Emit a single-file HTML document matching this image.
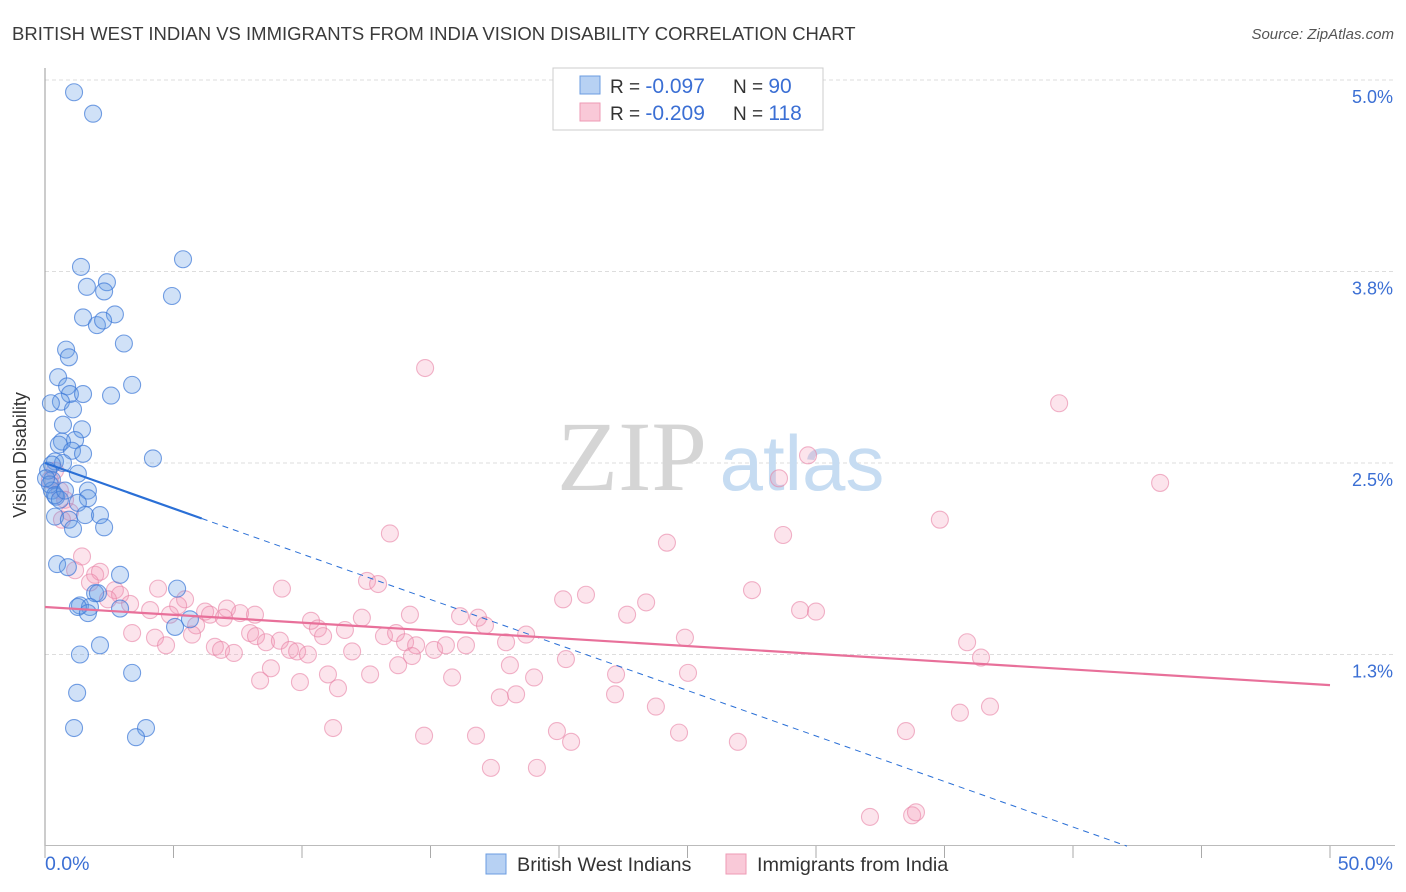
<!DOCTYPE html>
<html><head><meta charset="utf-8"><style>
body{margin:0;background:#fff;font-family:"Liberation Sans",sans-serif;}
#wrap{position:relative;width:1406px;height:892px;overflow:hidden;}
</style></head><body>
<div id="wrap">
<svg id="chart" width="1406" height="892" xmlns="http://www.w3.org/2000/svg">
<text x="12" y="40" font-size="18.5" fill="#3a3a3a">BRITISH WEST INDIAN VS IMMIGRANTS FROM INDIA VISION DISABILITY CORRELATION CHART</text>
<text x="1394" y="39" font-size="15" fill="#555" font-style="italic" text-anchor="end">Source: ZipAtlas.com</text>
<g id="grid"></g>
<g><text x="632" y="490" font-size="100" fill="#d5d5d5" font-family="Liberation Serif,serif" text-anchor="middle">ZIP</text><text x="802" y="490" font-size="78" fill="#c6dcf2" text-anchor="middle">atlas</text></g>
<line x1="45" y1="68" x2="45" y2="846" stroke="#999"/>
<line x1="45" y1="845.5" x2="1395" y2="845.5" stroke="#bbb"/>
<g id="ticks"></g>
<g id="pts"></g>
<g id="trends"></g>
<text x="26" y="455" font-size="18" fill="#333" text-anchor="middle" transform="rotate(-90 26 455)">Vision Disability</text>
<text x="45" y="870" font-size="19.5" fill="#3b6fd4">0.0%</text>
<text x="1393" y="870" font-size="19.5" fill="#3b6fd4" text-anchor="end">50.0%</text>
<g>
<rect x="553" y="68" width="270" height="62" fill="#fff" stroke="#ccc"/>
<rect x="580" y="76" width="20" height="18" fill="#b7d1f3" stroke="#6b9ce0"/>
<rect x="580" y="103" width="20" height="18" fill="#f9c9d8" stroke="#ee9ab5"/>
<text x="610" y="93" font-size="19" fill="#333">R = <tspan fill="#3b6fd4" font-size="21">-0.097</tspan><tspan x="733">N = </tspan><tspan fill="#3b6fd4" font-size="21">90</tspan></text>
<text x="610" y="120" font-size="19" fill="#333">R = <tspan fill="#3b6fd4" font-size="21">-0.209</tspan><tspan x="733">N = </tspan><tspan fill="#3b6fd4" font-size="21">118</tspan></text>
</g>
<g>
<rect x="486" y="854" width="20" height="20" fill="#b7d1f3" stroke="#6b9ce0"/>
<text x="517" y="871" font-size="19.8" fill="#333">British West Indians</text>
<rect x="726" y="854" width="20" height="20" fill="#f9c9d8" stroke="#ee9ab5"/>
<text x="757" y="871" font-size="19.8" fill="#333">Immigrants from India</text>
</g>
</svg>
</div>
<script>
const yTicks=[5.0,3.75,2.5,1.25];
const yTickLabels=["5.0%","3.8%","2.5%","1.3%"];
const xTicks=[0,5,10,15,20,25,30,35,40,45,50];
const blueX=[1.13,1.87,1.40,5.37,1.63,2.41,2.30,4.94,1.48,2.02,2.72,2.26,0.82,0.93,3.07,0.51,0.86,0.97,0.62,1.48,3.39,2.57,0.23,1.09,0.70,1.44,1.17,0.66,0.54,1.05,1.48,4.20,0.39,0.70,0.27,1.28,0.27,0.27,1.67,0.43,1.67,1.28,0.39,0.93,1.56,2.14,1.09,2.30,0.47,0.89,2.92,5.14,1.95,2.06,1.36,1.75,1.28,2.92,5.64,5.06,1.67,1.36,2.14,3.39,1.25,1.13,3.93,3.54,0.12,0.19,0.04,0.39,0.58,0.78];
const blueY=[4.92,4.78,3.78,3.83,3.65,3.68,3.62,3.59,3.45,3.40,3.47,3.43,3.24,3.19,3.28,3.06,3.00,2.95,2.90,2.95,3.01,2.94,2.89,2.85,2.75,2.72,2.65,2.64,2.62,2.58,2.56,2.53,2.51,2.50,2.49,2.43,2.39,2.32,2.32,2.28,2.27,2.24,2.15,2.13,2.16,2.16,2.07,2.08,1.84,1.82,1.77,1.68,1.65,1.65,1.57,1.56,1.56,1.55,1.48,1.43,1.52,1.25,1.31,1.13,1.00,0.77,0.77,0.71,2.45,2.36,2.40,2.29,2.26,2.32];
const pinkX=[14.79,39.46,29.69,28.56,43.39,34.82,13.42,24.20,28.72,0.39,0.19,0.58,0.78,0.97,0.66,1.44,1.17,1.95,2.14,1.75,4.40,9.22,12.53,12.96,21.05,20.16,27.51,23.39,29.38,30.00,2.72,2.92,2.45,3.31,4.09,5.45,5.18,4.86,6.23,6.42,7.08,7.59,8.17,5.88,6.96,10.35,10.62,11.67,12.33,14.20,16.15,16.85,17.12,18.72,22.65,24.90,35.88,36.42,3.39,4.28,4.71,5.72,7.98,8.21,6.61,6.85,7.35,8.60,9.14,9.53,9.81,10.23,10.82,11.95,13.19,13.66,14.01,14.44,15.14,15.60,16.38,17.94,20.27,14.28,8.37,8.79,9.92,11.01,11.40,12.65,13.74,15.84,18.09,19.03,22.22,25.02,17.70,18.33,22.18,23.77,35.60,36.77,11.21,14.75,16.77,19.92,20.47,24.67,26.96,33.50,17.35,19.14,32.10,33.74,33.89];
const pinkY=[3.12,2.89,2.55,2.40,2.37,2.13,2.04,1.98,2.03,2.45,2.39,2.32,2.26,2.18,2.13,1.89,1.80,1.77,1.79,1.72,1.68,1.68,1.73,1.71,1.64,1.61,1.67,1.59,1.54,1.53,1.67,1.64,1.61,1.58,1.54,1.61,1.57,1.51,1.53,1.51,1.55,1.52,1.51,1.44,1.49,1.47,1.42,1.41,1.49,1.51,1.50,1.49,1.44,1.38,1.51,1.36,1.33,1.23,1.39,1.36,1.31,1.38,1.39,1.37,1.30,1.28,1.26,1.33,1.34,1.28,1.27,1.25,1.37,1.27,1.37,1.39,1.33,1.31,1.28,1.31,1.31,1.33,1.22,1.24,1.08,1.16,1.07,1.12,1.03,1.12,1.18,1.10,1.18,1.10,1.12,1.13,0.97,0.99,0.99,0.91,0.87,0.91,0.77,0.72,0.72,0.75,0.68,0.74,0.68,0.75,0.51,0.51,0.19,0.20,0.22];
const blueTrend=[2.50,-0.0594];
const pinkTrend=[1.56,-0.0102];
const blueSolidEnd=6.1, blueDashEnd=42.1;

const NS="http://www.w3.org/2000/svg";
function xs(v){return 45+v*25.7;}
function ys(v){return 846-v*153.2;}
function mk(tag,attrs,parent){const e=document.createElementNS(NS,tag);for(const k in attrs)e.setAttribute(k,attrs[k]);parent.appendChild(e);return e;}
const grid=document.getElementById('grid');
yTicks.forEach((t,i)=>{
  const l=mk('line',{x1:45,x2:1395,y1:ys(t),y2:ys(t),stroke:'#ddd','stroke-dasharray':'4 3'},grid);
  
  
  const tx=mk('text',{x:1393,y:ys(t)+23,'font-size':18,fill:'#3b6fd4','text-anchor':'end'},grid);
  tx.textContent=yTickLabels[i];
  
  
});
const tk=document.getElementById('ticks');
xTicks.forEach(t=>{
  const l=mk('line',{x1:xs(t),x2:xs(t),y1:846,y2:858,stroke:'#aaa'},tk);
  
  
});
const pts=document.getElementById('pts');
pinkX.forEach((x,i)=>{
  const c=mk('circle',{cx:xs(x),cy:ys(pinkY[i]),r:8.5,fill:'rgba(242,150,180,0.26)',stroke:'rgba(232,130,165,0.6)','stroke-width':1.1},pts);
  
  
});
blueX.forEach((x,i)=>{
  const c=mk('circle',{cx:xs(x),cy:ys(blueY[i]),r:8.5,fill:'rgba(100,155,230,0.3)',stroke:'rgba(60,120,215,0.7)','stroke-width':1.1},pts);
  
  
});
const tr=document.getElementById('trends');
const bf=v=>blueTrend[0]+blueTrend[1]*v, pf=v=>pinkTrend[0]+pinkTrend[1]*v;
let l1=mk('line',{x1:xs(0),y1:ys(bf(0)),x2:xs(blueSolidEnd),y2:ys(bf(blueSolidEnd)),stroke:'#2a6fd6','stroke-width':2.2},tr);


let l2=mk('line',{x1:xs(blueSolidEnd),y1:ys(bf(blueSolidEnd)),x2:xs(blueDashEnd),y2:ys(bf(blueDashEnd)),stroke:'#2a6fd6','stroke-width':1,'stroke-dasharray':'6 5'},tr);


let l3=mk('line',{x1:xs(0),y1:ys(pf(0)),x2:xs(50),y2:ys(pf(50)),stroke:'#e8709a','stroke-width':2.2},tr);


</script>
</body></html>
